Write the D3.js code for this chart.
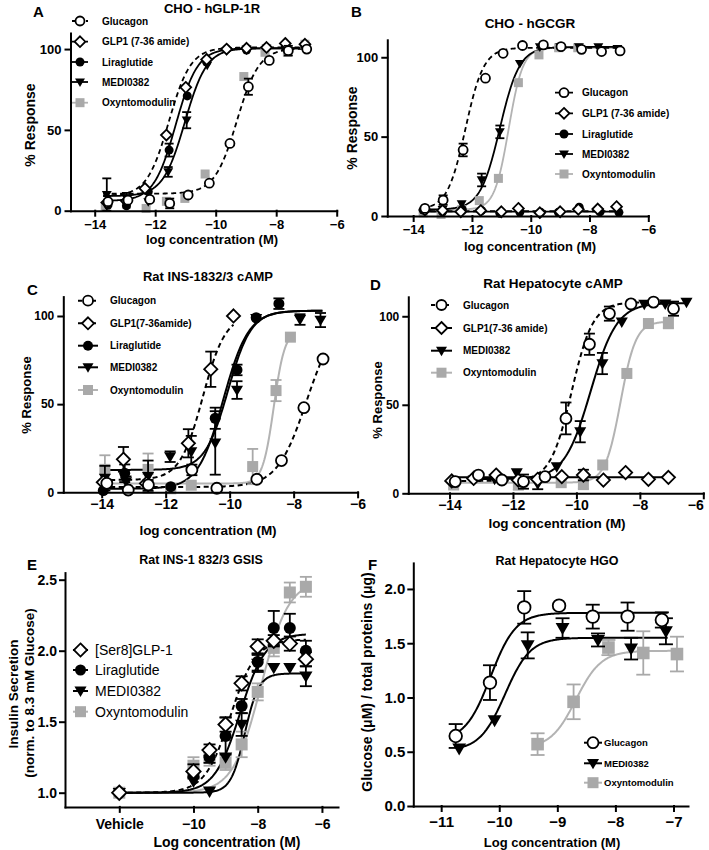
<!DOCTYPE html>
<html><head><meta charset="utf-8">
<script src="https://cdn.jsdelivr.net/npm/d3@7"></script>
<style>body{margin:0;background:#fff}</style></head>
<body><svg id="c" width="709" height="850"></svg>
<script>
// ===================== DATA =====================
// Panel A : CHO - hGLP-1R  (x = log M, y = % response, e = error)
const A_glu_x=[-13.56,-12.9,-12.18,-11.52,-10.91,-10.21,-9.53,-8.92,-8.23,-7.6,-6.99];
const A_glu_y=[5.6,6.5,7,4.5,9.7,17,41.6,76.7,93,99,100];
const A_glu_e=[2,2,2,3,2,2,2,5,2,3,2];
const A_glp_x=[-13.6,-12.95,-12.34,-11.63,-10.99,-10.3,-9.64,-8.98,-8.32,-7.7,-7.05];
const A_glp_y=[5,6,13.8,46.8,76.3,93.6,100,100.5,101,103.5,103];
const A_glp_e=[2,2,2,2,2,2,1,1,1,1,1];
const A_lir_x=[-13.56,-12.95,-12.23,-11.54,-10.94,-10.3,-9.64,-8.98,-8.32,-7.7,-7.05];
const A_lir_y=[3.5,3,11.8,37.5,71,92,100,99.4,101,101,102];
const A_lir_e=[2,2,2,4,2,2,1,1,1,1,1];
const A_med_x=[-13.6,-12.95,-12.23,-11.57,-10.96,-10.28,-9.64,-8.98,-8.32,-7.7,-7.05];
const A_med_y=[10,8,5.5,24,56,90,99,100,100.5,102,101.5];
const A_med_e=[10,3,2,3,5,2,1,1,1,1,1];
const A_oxm_x=[-13.65,-12.95,-12.3,-11.63,-11.02,-10.35,-9.07,-8.37,-7.63,-7.05];
const A_oxm_y=[2.5,4,1.4,5.8,7.6,22.7,83,98,98,103];
const A_oxm_e=[1,1,1,2,2,2,2,2,2,1];
// fitted curves: [bottom, top, logEC50, hill]
const A_fit_glu=[10.5,100.5,-9.3,1.18], A_fit_glp=[9,101,-11.55,1.2], A_fit_lir=[6,100.5,-11.32,1.2], A_fit_med=[9,100.5,-11.02,1.2];

// Panel B : CHO - hGCGR
const B_glu_x=[-13.6,-12.98,-12.3,-11.54,-10.94,-10.28,-9.57,-8.97,-8.27,-7.59,-6.96];
const B_glu_y=[4.8,10,41.6,86.8,102.5,107.4,107.8,106.7,105,103.6,104];
const B_glu_e=[1,3,4,2,1,1,1,1,1,1,1];
const B_glp_x=[-13.6,-13.0,-12.38,-11.7,-11.0,-10.42,-9.69,-9.0,-8.38,-7.72,-7.08];
const B_glp_y=[3.8,3.5,2.7,3.4,2.7,4.8,2.1,2.7,4.2,4.4,5.9];
const B_glp_e=[1,1,1,1,1,2,1,1,1,1,1];
const B_lir_x=[-13.66,-13.0,-12.33,-11.67,-11.05,-10.37,-9.66,-9.06,-8.35,-7.64,-7.0];
const B_lir_y=[3.8,2.7,4.2,3.4,1.7,2.5,2.3,2.3,5.5,2.7,2.3];
const B_lir_e=[1,1,1,1,1,1,1,1,1,1,1];
const B_med_x=[-13.6,-13.0,-12.35,-11.67,-11.05,-10.37,-9.69,-9.0,-8.36,-7.7,-7.05];
const B_med_y=[3.4,4,7.6,22.7,53,96,106.5,106.5,106.5,106.5,105.5];
const B_med_e=[1,1,1,4,4,2,1,1,1,1,1];
const B_oxm_x=[-13.66,-13.05,-12.35,-11.75,-11.1,-10.42,-9.72,-9.05,-8.4];
const B_oxm_y=[2,1,4,9.7,23.7,84,101.5,106,106];
const B_oxm_e=[1,1,1,1,1,1,1,1,1];
const B_fit_glu=[4,106,-12.22,1.4], B_fit_glp=[3,3,-10,1], B_fit_lir=[2.8,2.8,-10,1], B_fit_med=[4,106.5,-11.05,1.3], B_fit_oxm=[4,106,-10.75,1.8];

// Panel C : Rat INS-1832/3 cAMP
const C_glu_x=[-13.84,-13.17,-12.54,-11.18,-10.4,-9.15,-8.38,-7.68,-7.08];
const C_glu_y=[5.1,1.3,4.2,12.7,2.3,7.4,18,48,75.6];
const C_glu_e=[1,1,1,3,1,1,1,2,2];
const C_glp_x=[-13.95,-13.32,-12.6,-11.29,-10.59,-9.88];
const C_glp_y=[5.7,18.7,5,27.8,69.8,100];
const C_glp_e=[2,7,2,8,10,1];
const C_lir_x=[-13.95,-13.28,-12.55,-11.84,-10.45,-9.77,-9.17,-8.46];
const C_lir_y=[1,10.8,4,3.2,42,69.4,99,107];
const C_lir_e=[2,5,3,2,6,3,2,3];
const C_med_x=[-13.9,-13.24,-12.55,-11.86,-11.2,-10.45,-9.77,-9.17,-7.8,-7.16];
const C_med_y=[8,6,9,20.2,23,28,58,98.7,98,97.7];
const C_med_e=[7,3,9,3,9,18,5,2,3,4];
const C_oxm_x=[-13.9,-12.55,-11.84,-11.2,-9.28,-8.55,-8.1];
const C_oxm_y=[13,13,2,4,14.6,57.7,88];
const C_oxm_e=[8,9,1,1,10,6,1];
const C_fit_glu=[3,100,-7.6,0.95], C_fit_glp=[7,101,-10.84,1.22], C_fit_lir=[2,103,-10.2,1.1], C_fit_med=[12.7,103,-10.05,1.2], C_fit_oxm=[5,92,-8.62,2.5];

// Panel D : Rat Hepatocyte cAMP
const D_glu_x=[-13.82,-13.09,-12.35,-11.67,-10.99,-10.33,-9.59,-8.96,-8.28,-7.57,-6.94];
const D_glu_y=[6.6,10.3,7.5,6.6,9.4,42.3,84.2,101.5,107,108,104.3];
const D_glu_e=[1,2,1,4,1,9,6,4,1,1,4];
const D_glp_x=[-13.93,-13.24,-12.53,-11.83,-11.22,-10.46,-9.78,-9.15,-8.45,-7.73,-7.1];
const D_glp_y=[7,8.4,10.3,7.5,7.9,9.4,10.3,7.5,11.7,7.9,9];
const D_glp_e=[1,1,1,1,1,2,3,2,1,2,2];
const D_med_x=[-13.24,-12.58,-11.88,-11.22,-10.62,-9.88,-9.18,-8.57,-7.86,-7.2,-6.53];
const D_med_y=[7.5,8,11.7,5.3,15,34.8,73.3,96.8,106.8,107,108];
const D_med_e=[1,1,2,3,1,6,6,1,1,1,1];
const D_oxm_x=[-13.87,-11.83,-10.48,-9.78,-9.17,-8.41,-7.73,-7.1];
const D_oxm_y=[4.7,5,6,5.3,16,67.7,95.9,96.2];
const D_oxm_e=[1,3,1,3,1,1,2,3];
const D_fit_glu=[7,108,-10.15,1.3], D_fit_glp=[9,9,-10,1], D_fit_med=[8,107.5,-9.55,1.05], D_fit_oxm=[6,97,-8.61,1.8];

// Panel E : Rat INS-1 832/3 GSIS (first point = Vehicle)
const E_x=[-12.31,-10,-9.5,-9,-8.5,-8,-7.5,-7,-6.5];
const E_tickVals=[-12.31,-10,-8,-6];
const E_tickLabels=["Vehicle","\u221210","\u22128","\u22126"];
const E_ser_y=[1.0,1.15,1.3,1.48,1.77,2.03,2.07,2.05,1.94];
const E_ser_e=[0.01,0.05,0.04,0.05,0.05,0.05,0.04,0.05,0.05];
const E_lir_y=[1.0,1.12,1.25,1.4,1.61,1.92,2.16,2.16,2.0];
const E_lir_e=[0.01,0.03,0.04,0.13,0.05,0.06,0.12,0.1,0.07];
const E_med_y=[1.0,1.08,1.01,1.25,1.48,1.91,1.88,1.88,1.82];
const E_med_e=[0.01,0.02,0.01,0.03,0.08,0.06,0.03,0.02,0.07];
const E_oxm_y=[1.0,1.19,1.25,1.21,1.34,1.71,2.02,2.41,2.45];
const E_oxm_e=[0.03,0.06,0.06,0.05,0.09,0.06,0.06,0.07,0.07];
const E_fit_ser=[1.0,2.08,-8.85,1.1], E_fit_lir=[1.0,2.12,-8.55,1.1], E_fit_med=[1.0,1.84,-8.4,2], E_fit_oxm=[1.0,2.5,-7.9,1.0];

// Panel F : Rat Hepatocyte HGO
const F_glu_x=[-10.75,-10.16,-9.57,-8.97,-8.39,-7.79,-7.2];
const F_glu_y=[0.645,1.137,1.83,1.846,1.745,1.745,1.714];
const F_glu_e=[0.11,0.16,0.15,0.0,0.11,0.13,0.07];
const F_med_x=[-10.69,-10.08,-9.51,-8.91,-8.3,-7.73,-7.13];
const F_med_y=[0.53,0.79,1.48,1.64,1.53,1.45,1.61];
const F_med_e=[0.02,0.02,0.12,0.09,0.06,0.1,0.12];
const F_oxm_x=[-9.34,-8.72,-8.12,-7.52,-6.94];
const F_oxm_y=[0.57,0.96,1.46,1.41,1.4];
const F_oxm_e=[0.1,0.16,0.07,0.2,0.16];
const F_fit_glu=[0.6,1.78,-10.15,2], F_fit_med=[0.51,1.55,-9.9,2], F_fit_oxm=[0.53,1.43,-8.68,2];

// ===================== STYLES =====================
const FONT='"Liberation Sans", Arial, Helvetica, sans-serif';
const GRAY='#a9a9a9', GRAYLINE='#b3b3b3';
const DASH='5,3.5';
const S_glu={m:'oc',dash:DASH,line:'#000'}, S_gluSolid={m:'oc',dash:null,line:'#000'};
const S_glp={m:'od',dash:DASH,line:'#000'}, S_glpSolid={m:'od',dash:null,line:'#000'};
const S_lir={m:'fc',dash:null,line:'#000'}, S_med={m:'tri',dash:null,line:'#000'};
const S_oxm={m:'sq',dash:null,line:GRAYLINE,col:GRAY};

const svg=d3.select('#c');

function marker(g,type,cx,cy,s){
  if(type==='oc') g.append('circle').attr('cx',cx).attr('cy',cy).attr('r',s).attr('fill','#fff').attr('stroke','#000').attr('stroke-width',1.8);
  else if(type==='fc') g.append('circle').attr('cx',cx).attr('cy',cy).attr('r',s).attr('fill','#000');
  else if(type==='od'){const d=s*1.2;g.append('path').attr('d',`M${cx},${cy-d}L${cx+d},${cy}L${cx},${cy+d}L${cx-d},${cy}Z`).attr('fill','#fff').attr('stroke','#000').attr('stroke-width',1.8);}
  else if(type==='tri') g.append('path').attr('d',`M${cx-s*1.1},${cy-s*0.8}L${cx+s*1.1},${cy-s*0.8}L${cx},${cy+s*1.1}Z`).attr('fill','#000');
  else if(type==='sq') g.append('rect').attr('x',cx-s).attr('y',cy-s).attr('width',2*s).attr('height',2*s).attr('fill',GRAY);
}

function drawPanel(P){
  const g=svg.append('g');
  const xs=d3.scaleLinear().domain(P.xd).range(P.xr);
  const ys=d3.scaleLinear().domain(P.yd).range(P.yr);
  const ordered=P.series.slice().reverse();
  // curves
  ordered.forEach(s=>{
    if(!s.fit) return;
    const [b,t,ec,h]=s.fit;
    const pts=d3.range(0,241).map(i=>{const x=s.cr[0]+(s.cr[1]-s.cr[0])*i/240;return [x,b+(t-b)/(1+Math.pow(10,(ec-x)*h))];});
    g.append('path').attr('d',d3.line().x(d=>xs(d[0])).y(d=>ys(d[1]))(pts))
      .attr('fill','none').attr('stroke',s.st.line).attr('stroke-width',P.lw).attr('stroke-dasharray',s.st.dash);
  });
  // error bars + markers
  ordered.forEach(s=>{
    const col=s.st.col||'#000';
    s.x.forEach((xv,i)=>{
      const cx=xs(xv), cy=ys(s.y[i]), e=s.e?s.e[i]:0;
      const y1=ys(s.y[i]+e), y2=ys(s.y[i]-e);
      if(cy-y1>P.ms*0.9){
        g.append('line').attr('x1',cx).attr('x2',cx).attr('y1',y1).attr('y2',y2).attr('stroke',col).attr('stroke-width',1.8);
        [y1,y2].forEach(yy=>g.append('line').attr('x1',cx-P.cap).attr('x2',cx+P.cap).attr('y1',yy).attr('y2',yy).attr('stroke',col).attr('stroke-width',1.8));
      }
    });
    s.x.forEach((xv,i)=>marker(g,s.st.m,xs(xv),ys(s.y[i]),P.ms));
  });
  // axes
  const styleAxis=(sel,fs)=>{
    sel.attr('font-family',FONT).attr('font-size',fs).attr('font-weight','bold');
    sel.selectAll('path,line').attr('stroke','#000').attr('stroke-width',2).attr('stroke-linecap','square');
    sel.selectAll('text').attr('fill','#000');
  };
  const xa=d3.axisBottom(xs).tickValues(P.xt).tickSize(P.tk).tickSizeOuter(0).tickPadding(P.xpad).tickFormat(P.xf||d3.format('d'));
  const xg=g.append('g').attr('transform',`translate(0,${P.yr[0]})`).call(xa).call(s=>styleAxis(s,P.xfs));
  if(P.lastShift) xg.selectAll('.tick text').filter((d,i,n)=>i===n.length-1).attr('dx',P.lastShift);
  const ya=d3.axisLeft(ys).tickValues(P.yt).tickSize(P.tk).tickSizeOuter(0).tickPadding(P.ypad).tickFormat(P.yf||d3.format('d'));
  g.append('g').attr('transform',`translate(${P.xr[0]},0)`).call(ya).call(s=>styleAxis(s,P.yfs));
  // texts
  const T=(x,y,txt,fs,opt={})=>g.append('text').attr('x',x).attr('y',y).text(txt).attr('font-family',FONT).attr('font-size',fs)
      .attr('font-weight',opt.w||'bold').attr('text-anchor',opt.a||'middle').attr('fill','#000');
  T(P.letter[0],P.letter[1],P.letter[2],15,{a:'start'});
  T(P.title[0],P.title[1],P.title[2],P.title[3]);
  T(P.xl[0],P.xl[1],P.xl[2],P.xl[3]);
  P.yl.forEach(l=>g.append('text').attr('transform',`translate(${l[0]},${l[1]}) rotate(-90)`).attr('dy','0.35em').text(l[2])
      .attr('font-family',FONT).attr('font-size',l[3]).attr('font-weight','bold').attr('text-anchor','middle'));
  // legend
  const L=P.leg;
  L.names.forEach((nm,i)=>{
    const s=P.series[i], y=L.rows[i];
    g.append('line').attr('x1',L.lx[0]).attr('x2',L.lx[1]).attr('y1',y).attr('y2',y).attr('stroke',s.st.line).attr('stroke-width',P.lw)
      .attr('stroke-dasharray',s.st.dash?'4,3':null);
    marker(g,s.st.m,(L.lx[0]+L.lx[1])/2,y,L.ms);
    g.append('text').attr('x',L.tx).attr('y',y).attr('dy','0.35em').text(nm).attr('font-family',FONT).attr('font-size',L.fs)
      .attr('font-weight',L.w||'bold').attr('fill','#000');
  });
}

const cdTicks=[-14,-12,-10,-8,-6];
// ---------- A ----------
drawPanel({xd:[-14.8,-6],xr:[70.5,336.7],yd:[0,110],yr:[210.7,32.9],xt:cdTicks,yt:[0,50,100],tk:5,xpad:4,ypad:4,xfs:13,yfs:13,lw:1.8,ms:4.5,cap:4.5,
  series:[
    {x:A_glu_x,y:A_glu_y,e:A_glu_e,fit:A_fit_glu,cr:[-13.72,-7.0],st:S_glu},
    {x:A_glp_x,y:A_glp_y,e:A_glp_e,fit:A_fit_glp,cr:[-13.72,-7.0],st:S_glp},
    {x:A_lir_x,y:A_lir_y,e:A_lir_e,fit:A_fit_lir,cr:[-13.72,-7.0],st:S_lir},
    {x:A_med_x,y:A_med_y,e:A_med_e,fit:A_fit_med,cr:[-13.72,-7.0],st:S_med},
    {x:A_oxm_x,y:A_oxm_y,e:A_oxm_e,fit:null,st:S_oxm}],
  letter:[33,17,'A'],title:[212,13,'CHO - hGLP-1R',13],xl:[212,244,'log concentration (M)',13],yl:[[30,125,'% Response',14]],
  leg:{names:['Glucagon','GLP1 (7-36 amide)','Liraglutide','MEDI0382','Oxyntomodulin'],lx:[72,88],tx:102,rows:[21,41.7,62,82,102.7],fs:10,ms:4.5}});
// ---------- B ----------
drawPanel({xd:[-14.88,-6],xr:[387.3,648.3],yd:[0,111],yr:[216,39.8],xt:cdTicks,yt:[0,50,100],tk:5,xpad:4,ypad:4,xfs:13,yfs:13,lw:1.8,ms:4.5,cap:4.5,
  series:[
    {x:B_glu_x,y:B_glu_y,e:B_glu_e,fit:B_fit_glu,cr:[-13.7,-6.96],st:S_glu},
    {x:B_glp_x,y:B_glp_y,e:B_glp_e,fit:B_fit_glp,cr:[-13.7,-7.0],st:S_glp},
    {x:B_lir_x,y:B_lir_y,e:B_lir_e,fit:B_fit_lir,cr:[-13.7,-7.0],st:S_lir},
    {x:B_med_x,y:B_med_y,e:B_med_e,fit:B_fit_med,cr:[-13.7,-7.0],st:S_med},
    {x:B_oxm_x,y:B_oxm_y,e:B_oxm_e,fit:B_fit_oxm,cr:[-13.7,-7.0],st:S_oxm}],
  letter:[351,17,'B'],title:[530,28,'CHO - hGCGR',13.5],xl:[530,251,'log concentration (M)',13],yl:[[352,128,'% Response',14]],
  leg:{names:['Glucagon','GLP1 (7-36 amide)','Liraglutide','MEDI0382','Oxyntomodulin'],lx:[555,573],tx:582,rows:[92.7,113.3,134,154,174],fs:10,ms:4.5}});
// ---------- C ----------
drawPanel({xd:[-15.2,-6],xr:[63.3,357.6],yd:[0,111],yr:[492.3,296.6],xt:cdTicks,yt:[0,50,100],tk:5,xpad:2,ypad:4,xfs:14,yfs:12,lw:2,ms:5.5,cap:5.5,
  series:[
    {x:C_glu_x,y:C_glu_y,e:C_glu_e,fit:C_fit_glu,cr:[-14,-7.08],st:S_glu},
    {x:C_glp_x,y:C_glp_y,e:C_glp_e,fit:C_fit_glp,cr:[-14,-9.88],st:S_glp},
    {x:C_lir_x,y:C_lir_y,e:C_lir_e,fit:C_fit_lir,cr:[-14,-7.1],st:S_lir},
    {x:C_med_x,y:C_med_y,e:C_med_e,fit:C_fit_med,cr:[-14,-7.1],st:S_med},
    {x:C_oxm_x,y:C_oxm_y,e:C_oxm_e,fit:C_fit_oxm,cr:[-14,-8.1],st:S_oxm}],
  letter:[27,295,'C'],title:[208,281,'Rat INS-1832/3 cAMP',13],xl:[208,535,'log concentration (M)',13.5],yl:[[26,395,'% Response',13]],
  leg:{names:['Glucagon','GLP1(7-36amide)','Liraglutide','MEDI0382','Oxyntomodulin'],lx:[78,98],tx:110,rows:[300.7,323.3,345.7,367.3,390],fs:10,ms:5}});
// ---------- D ----------
drawPanel({xd:[-15.3,-6],xr:[408.3,703.3],yd:[0,111],yr:[493.3,296.8],xt:cdTicks,yt:[0,50,100],tk:5,xpad:2,ypad:4,xfs:14,yfs:12,lw:2,ms:5.5,cap:5.5,lastShift:-8,
  series:[
    {x:D_glu_x,y:D_glu_y,e:D_glu_e,fit:D_fit_glu,cr:[-13.9,-6.94],st:S_glu},
    {x:D_glp_x,y:D_glp_y,e:D_glp_e,fit:D_fit_glp,cr:[-13.9,-7.1],st:S_glpSolid},
    {x:D_med_x,y:D_med_y,e:D_med_e,fit:D_fit_med,cr:[-13.3,-6.5],st:S_med},
    {x:D_oxm_x,y:D_oxm_y,e:D_oxm_e,fit:D_fit_oxm,cr:[-13.9,-7.1],st:S_oxm}],
  letter:[370,290,'D'],title:[553,288,'Rat Hepatocyte cAMP',13.5],xl:[557,528,'log concentration (M)',13.5],yl:[[377.5,400,'% Response',13]],
  leg:{names:['Glucagon','GLP1(7-36 amide)','MEDI0382','Oxyntomodulin'],lx:[431,452],tx:463,rows:[305,328,350.7,372.7],fs:10,ms:5}});
// ---------- E ----------
drawPanel({xd:[-14,-5.5],xr:[65,338],yd:[0.9,2.55],yr:[806.9,572.6],xt:E_tickVals,yt:[1.0,1.5,2.0,2.5],tk:5,xpad:7,ypad:3,xfs:14,yfs:14,lw:2,ms:6,cap:6,
  xf:(d,i)=>E_tickLabels[i],yf:d3.format('.1f'),
  series:[
    {x:E_x,y:E_ser_y,e:E_ser_e,fit:E_fit_ser,cr:[-12.31,-6.5],st:S_glp},
    {x:E_x,y:E_lir_y,e:E_lir_e,fit:E_fit_lir,cr:[-12.31,-6.5],st:S_lir},
    {x:E_x,y:E_med_y,e:E_med_e,fit:E_fit_med,cr:[-12.31,-6.5],st:S_med},
    {x:E_x,y:E_oxm_y,e:E_oxm_e,fit:E_fit_oxm,cr:[-12.31,-6.5],st:S_oxm}],
  letter:[27,570,'E'],title:[201,564,'Rat INS-1 832/3 GSIS',12.5],xl:[227,847,'Log concentration (M)',14],
  yl:[[13,694,'Insulin Secretion',13.5],[29,693,'(norm. to 8.3 mM Glucose)',13.5]],
  leg:{names:['[Ser8]GLP-1','Liraglutide','MEDI0382','Oxyntomodulin'],lx:[73,88],tx:95,rows:[650,670,691,711.7],fs:14,ms:5.5,w:'normal'}});
// ---------- F ----------
drawPanel({xd:[-11.48,-6.75],xr:[413.3,688],yd:[0,2.24],yr:[806,562.9],xt:[-11,-10,-9,-8,-7],yt:[0,0.5,1.0,1.5,2.0],tk:5,xpad:5,ypad:3,xfs:15,yfs:15,lw:2,ms:6.3,cap:7,
  yf:d3.format('.1f'),
  series:[
    {x:F_glu_x,y:F_glu_y,e:F_glu_e,fit:F_fit_glu,cr:[-10.75,-7.1],st:S_gluSolid},
    {x:F_med_x,y:F_med_y,e:F_med_e,fit:F_fit_med,cr:[-10.69,-7.1],st:S_med},
    {x:F_oxm_x,y:F_oxm_y,e:F_oxm_e,fit:F_fit_oxm,cr:[-9.34,-6.94],st:S_oxm}],
  letter:[368,570,'F'],title:[557,565,'Rat Hepatocyte HGO',12.5],xl:[552,847,'Log concentration (M)',13],
  yl:[[367,682,'Glucose (\u03bcM) / total proteins (\u03bcg)',14]],
  leg:{names:['Glucagon','MEDI0382','Oxyntomodulin'],lx:[584,602],tx:604,rows:[742.7,763.3,782.7],fs:9.5,ms:5.5}});
</script></body></html>
